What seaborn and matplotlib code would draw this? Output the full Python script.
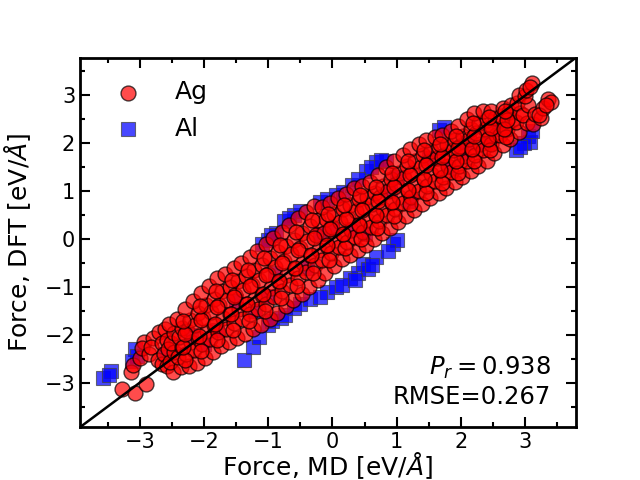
import matplotlib
matplotlib.use("Agg")
import matplotlib.pyplot as plt
from matplotlib.ticker import MultipleLocator
import seaborn as sns

# Ag forces (MD vs DFT)
ag_md = [
    -3.27, -3.08, -2.90, -3.14, -3.10, -2.99, -2.93, -2.96, -2.86, -2.80,
    -2.82, -2.72, -2.70, -2.66, -2.66, -2.62, -2.60, -2.58, -2.56, -2.57,
    -2.48, -2.53, -2.46, -2.51, -2.47, -2.54,
    -2.36, -2.41, -2.34, -2.39, -2.35, -2.42,
    -2.23, -2.28, -2.21, -2.26, -2.22, -2.29,
    -2.11, -2.16, -2.09, -2.14, -2.10, -2.17,
    -1.98, -2.03, -1.96, -2.01, -1.97, -2.04,
    -1.86, -1.91, -1.84, -1.89, -1.85, -1.92,
    -1.73, -1.78, -1.71, -1.76, -1.72, -1.79,
    -1.61, -1.66, -1.59, -1.64, -1.60, -1.67,
    -1.48, -1.53, -1.46, -1.51, -1.47, -1.54,
    -1.36, -1.41, -1.34, -1.39, -1.35, -1.42,
    -1.23, -1.28, -1.21, -1.26, -1.22, -1.29,
    -1.11, -1.16, -1.09, -1.14, -1.10, -1.17,
    -0.98, -1.03, -0.96, -1.01, -0.97, -1.04,
    -0.86, -0.91, -0.84, -0.89, -0.85, -0.92,
    -0.73, -0.78, -0.71, -0.76, -0.72, -0.79,
    -0.61, -0.66, -0.59, -0.64, -0.60, -0.67,
    -0.48, -0.53, -0.46, -0.51, -0.47, -0.54,
    -0.36, -0.41, -0.34, -0.39, -0.35, -0.42,
    -0.23, -0.28, -0.21, -0.26, -0.22, -0.29,
    -0.11, -0.16, -0.09, -0.14, -0.10, -0.17,
    0.02, -0.03, 0.04, -0.01, 0.03, -0.04,
    0.15, 0.10, 0.17, 0.12, 0.16, 0.09,
    0.27, 0.22, 0.29, 0.24, 0.28, 0.21,
    0.40, 0.35, 0.42, 0.37, 0.41, 0.34,
    0.52, 0.47, 0.54, 0.49, 0.53, 0.46,
    0.65, 0.60, 0.67, 0.62, 0.66, 0.59,
    0.77, 0.72, 0.79, 0.74, 0.78, 0.71,
    0.90, 0.85, 0.92, 0.87, 0.91, 0.84,
    1.02, 0.97, 1.04, 0.99, 1.03, 0.96,
    1.15, 1.10, 1.17, 1.12, 1.16, 1.09,
    1.27, 1.22, 1.29, 1.24, 1.28, 1.21,
    1.40, 1.35, 1.42, 1.37, 1.41, 1.34,
    1.52, 1.47, 1.54, 1.49, 1.53, 1.46,
    1.65, 1.60, 1.67, 1.62, 1.66, 1.59,
    1.77, 1.72, 1.79, 1.74, 1.78, 1.71,
    1.90, 1.85, 1.92, 1.87, 1.91, 1.84,
    2.02, 1.97, 2.04, 1.99, 2.03, 1.96,
    2.15, 2.10, 2.17, 2.12, 2.16, 2.09,
    2.27, 2.22, 2.29, 2.24, 2.28, 2.21,
    2.40, 2.35, 2.42, 2.37, 2.41, 2.34,
    2.52, 2.47, 2.54, 2.49, 2.53, 2.46,
    2.65, 2.60, 2.67, 2.62, 2.66,
    2.77, 2.72, 2.79, 2.74, 2.78,
    2.90, 2.85, 2.92, 2.87, 2.91,
    3.02, 2.97, 3.04, 2.99, 3.01,
    3.12, 3.15, 3.10, 3.08, 3.25, 3.27, 3.22, 3.36, 3.40, 3.33,
    # inner layer
    -2.30, -2.33, -2.29, -2.32, -2.05, -2.08, -2.04, -2.07,
    -1.80, -1.83, -1.79, -1.82, -1.55, -1.58, -1.54, -1.57,
    -1.30, -1.33, -1.29, -1.32, -1.05, -1.08, -1.04, -1.07,
    -0.80, -0.83, -0.79, -0.82, -0.55, -0.58, -0.54, -0.57,
    -0.30, -0.33, -0.29, -0.32, -0.05, -0.08, -0.04, -0.07,
    0.20, 0.17, 0.21, 0.18, 0.45, 0.42, 0.46, 0.43,
    0.70, 0.67, 0.71, 0.68, 0.95, 0.92, 0.96, 0.93,
    1.20, 1.17, 1.21, 1.18, 1.45, 1.42, 1.46, 1.43,
    1.70, 1.67, 1.71, 1.68, 1.95, 1.92, 1.96, 1.93,
    2.20, 2.17, 2.21, 2.18, 2.45, 2.42, 2.46, 2.43,
    2.70, 2.67, 2.71, 2.68,
]
ag_dft = [
    -3.13, -3.22, -3.03, -2.77, -2.64, -2.48, -2.14, -2.28, -2.40, -2.06,
    -2.25, -2.52, -1.95, -2.18, -2.62, -2.40, -1.88, -2.10, -2.30, -2.65,
    -2.78, -2.57, -2.36, -2.17, -1.96, -1.77,
    -2.68, -2.46, -2.26, -2.05, -1.86, -1.66,
    -2.65, -2.40, -2.16, -1.92, -1.69, -1.47,
    -2.58, -2.32, -2.06, -1.80, -1.55, -1.30,
    -2.48, -2.20, -1.92, -1.65, -1.38, -1.12,
    -2.36, -2.08, -1.80, -1.52, -1.25, -0.98,
    -2.23, -1.94, -1.65, -1.37, -1.09, -0.82,
    -2.16, -1.87, -1.57, -1.28, -1.00, -0.72,
    -2.06, -1.76, -1.46, -1.17, -0.88, -0.61,
    -1.98, -1.67, -1.36, -1.06, -0.77, -0.49,
    -1.88, -1.57, -1.25, -0.95, -0.65, -0.37,
    -1.79, -1.47, -1.16, -0.85, -0.55, -0.25,
    -1.68, -1.35, -1.03, -0.72, -0.40, -0.10,
    -1.54, -1.22, -0.90, -0.59, -0.28, 0.02,
    -1.40, -1.08, -0.76, -0.45, -0.14, 0.15,
    -1.27, -0.95, -0.63, -0.32, -0.01, 0.29,
    -1.14, -0.82, -0.50, -0.18, 0.13, 0.43,
    -1.00, -0.68, -0.36, -0.04, 0.27, 0.56,
    -0.85, -0.54, -0.22, 0.09, 0.40, 0.68,
    -0.71, -0.43, -0.15, 0.13, 0.41, 0.67,
    -0.56, -0.29, -0.02, 0.25, 0.52, 0.76,
    -0.42, -0.16, 0.10, 0.36, 0.62, 0.86,
    -0.33, -0.07, 0.19, 0.45, 0.71, 0.95,
    -0.22, 0.05, 0.32, 0.58, 0.83, 1.06,
    -0.12, 0.14, 0.40, 0.64, 0.88, 1.10,
    0.00, 0.25, 0.50, 0.74, 0.97, 1.19,
    0.12, 0.37, 0.63, 0.87, 1.11, 1.33,
    0.24, 0.50, 0.76, 1.01, 1.26, 1.50,
    0.36, 0.62, 0.88, 1.14, 1.39, 1.63,
    0.49, 0.75, 1.01, 1.27, 1.52, 1.76,
    0.61, 0.87, 1.13, 1.39, 1.64, 1.88,
    0.74, 1.00, 1.25, 1.50, 1.75, 1.98,
    0.86, 1.11, 1.36, 1.60, 1.84, 2.06,
    0.97, 1.21, 1.45, 1.69, 1.92, 2.13,
    1.07, 1.30, 1.53, 1.75, 1.97, 2.18,
    1.19, 1.41, 1.63, 1.85, 2.06, 2.26,
    1.30, 1.52, 1.74, 1.95, 2.16, 2.36,
    1.42, 1.64, 1.86, 2.08, 2.30, 2.51,
    1.52, 1.75, 1.98, 2.21, 2.43, 2.63,
    1.64, 1.86, 2.08, 2.29, 2.49, 2.68,
    1.80, 1.98, 2.17, 2.35, 2.53, 2.68,
    1.97, 2.17, 2.37, 2.57, 2.73,
    2.10, 2.29, 2.48, 2.66, 2.80,
    2.24, 2.44, 2.64, 2.84, 3.00,
    2.42, 2.60, 2.80, 2.98, 3.12,
    2.40, 2.62, 3.25, 3.18, 2.52, 2.74, 2.60, 2.93, 2.86, 2.80,
    # inner layer
    -2.53, -2.26, -1.98, -1.71, -2.34, -2.03, -1.70, -1.39,
    -2.10, -1.77, -1.42, -1.09, -1.91, -1.56, -1.21, -0.86,
    -1.71, -1.36, -0.99, -0.64, -1.51, -1.14, -0.76, -0.39,
    -1.24, -0.87, -0.50, -0.13, -0.98, -0.61, -0.23, 0.14,
    -0.70, -0.34, 0.03, 0.40, -0.44, -0.12, 0.21, 0.53,
    -0.19, 0.11, 0.42, 0.72, 0.00, 0.30, 0.60, 0.91,
    0.23, 0.51, 0.80, 1.09, 0.48, 0.78, 1.08, 1.39,
    0.73, 1.03, 1.33, 1.64, 0.97, 1.26, 1.55, 1.85,
    1.18, 1.44, 1.71, 1.99, 1.39, 1.64, 1.91, 2.16,
    1.62, 1.88, 2.16, 2.42, 1.85, 2.08, 2.32, 2.55,
    2.13, 2.30, 2.49, 2.67,
]

# Al forces
al_md = [
    -3.57, -3.44, -3.48, -3.08, -3.05, -3.12,
    -1.37, -1.23, -1.00, -0.94, -0.80, -0.74, -0.60, -0.50,
    -0.09, 0.06, 0.27, 0.40, 0.48, 0.56, 0.68, 0.94, 1.00,
    -1.15, -0.35, -0.20, 0.15, 0.35, 0.62, 0.86,
    -1.10, -0.88, -0.75, -0.60, -0.50, -0.20, -0.08, 0.06, 0.16,
    0.52, 0.68, 0.83, 0.60, 1.66, 1.74,
    -1.00, -0.95, -0.68, 0.30, 0.40, 0.75,
    3.05, 3.07, 2.98, 2.86, 2.92, 3.10,
    -2.6, -2.2, -1.8, -1.5, -1.2, -0.9, -0.4, -0.2, 0.3, 0.5, 0.9,
    1.2, 1.5, 1.8, 2.1, 2.4, 2.6, -2.0, -1.0, 0.0, 1.0, 2.0,
]
al_dft = [
    -2.90, -2.75, -2.84, -2.30, -2.44, -2.55,
    -2.52, -2.26, -1.80, -1.72, -1.65, -1.58, -1.45, -1.36,
    -1.10, -1.00, -0.82, -0.70, -0.52, -0.62, -0.38, -0.10, -0.02,
    -2.05, -1.25, -1.22, -0.95, -0.85, -0.55, -0.24,
    -0.10, 0.12, 0.38, 0.50, 0.58, 0.78, 0.84, 0.92, 0.98,
    1.43, 1.60, 1.64, 1.50, 2.27, 2.33,
    -0.02, 0.08, 0.45, 1.12, 1.25, 1.66,
    2.15, 2.03, 2.00, 1.86, 1.92, 2.25,
    -2.4, -2.0, -1.9, -1.3, -1.5, -0.7, -0.6, 0.1, 0.2, 0.1, 1.0,
    0.8, 1.7, 1.5, 2.0, 2.0, 2.3, -2.2, -1.2, 0.2, 1.3, 1.8,
]

lims = [-3.93, 3.79]
pr_text = r'$P_r = 0.938$' + '\nRMSE=0.267'

sns.set_style("ticks", {"xtick.direction": "in", "ytick.direction": "in",
                        "text.color": "k", "axes.labelcolor": "k",
                        "xtick.color": "k", "ytick.color": "k",
                        "axes.edgecolor": "k"})
plt.rcParams['font.family'] = ['DejaVu Sans']
plt.rcParams['mathtext.fontset'] = 'dejavusans'

fig, ax = plt.subplots(figsize=(6.4, 4.8), dpi=100)

sns.scatterplot(x=al_md, y=al_dft, ax=ax, marker='s', s=110, color='blue',
                alpha=0.72, edgecolor='0.25', linewidth=0.8, label='Al', zorder=2)
sns.scatterplot(x=ag_md, y=ag_dft, ax=ax, marker='o', s=115, color='red',
                alpha=0.7, edgecolor='k', linewidth=1.0, label='Ag', zorder=3)
ax.plot(lims, lims, color='k', lw=1.8, zorder=4)

ax.set_xlim(lims)
ax.set_ylim(lims)
ax.xaxis.set_major_locator(MultipleLocator(1))
ax.yaxis.set_major_locator(MultipleLocator(1))
ax.xaxis.set_minor_locator(MultipleLocator(0.5))
ax.yaxis.set_minor_locator(MultipleLocator(0.5))
ax.tick_params(which='both', direction='in', top=True, right=True, width=1.5,
               labelsize=15, color='k', labelcolor='k')
ax.tick_params(which='major', length=7.5)
ax.tick_params(which='minor', length=3.6)
for sp in ax.spines.values():
    sp.set_linewidth(2)
    sp.set_color('k')

ax.set_xlabel(r'Force, MD [eV/$\AA$]', fontsize=18, labelpad=-1.2)
ax.set_ylabel(r'Force, DFT [eV/$\AA$]', fontsize=18, labelpad=8)

handles, labels = ax.get_legend_handles_labels()
order = [labels.index('Ag'), labels.index('Al')]
ax.legend([handles[i] for i in order], [labels[i] for i in order],
          loc='upper left', frameon=False, fontsize=18, handletextpad=0.9,
          scatterpoints=1)

ax.text(0.95, 0.05, pr_text, transform=ax.transAxes, ha='right', va='bottom',
        fontsize=17.5)

plt.savefig('out.png', dpi=100)
